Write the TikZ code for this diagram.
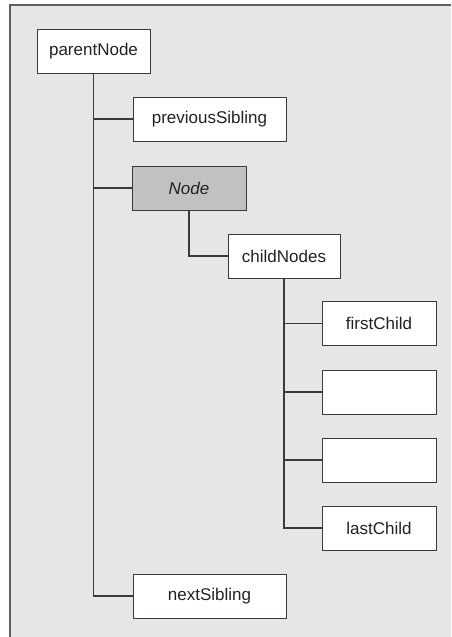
\documentclass[tikz,border=0pt]{standalone}
\usepackage{fontspec}
\setmainfont{Liberation Sans}
\begin{document}
\definecolor{panel}{HTML}{E5E6E8}
\definecolor{panelrule}{HTML}{606060}
\definecolor{boxrule}{HTML}{3A3A3A}
\definecolor{current}{HTML}{C0C1C3}
\definecolor{ink}{HTML}{222222}
\begin{tikzpicture}[x=1pt,y=-1pt,
  box/.style={draw=boxrule, line width=1pt, fill=white, minimum height=44pt,
    inner sep=0pt, font=\fontsize{17}{19}\selectfont, text=ink},
  link/.style={draw=boxrule, line width=1.3pt}]
  \useasboundingbox (0,0) rectangle (451,637);
  % panel
  \fill[panel] (10,5) rectangle (451,637);
  \draw[panelrule, line width=1.5pt] (10,637) -- (10,5) -- (451,5);

  % boxes
  \node[box, minimum width=113pt] (parent) at (93.5,51) {parentNode};
  \node[box, minimum width=153pt] (prev) at (209.5,119) {previousSibling};
  \node[box, minimum width=114pt, fill=current] (node) at (189,188) {\itshape Node};
  \node[box, minimum width=112pt] (children) at (284,256) {childNodes};
  \node[box, minimum width=114pt] (first) at (379,323.5) {firstChild};
  \node[box, minimum width=114pt] (midA) at (379,392) {};
  \node[box, minimum width=114pt] (midB) at (379,460) {};
  \node[box, minimum width=114pt] (last) at (379,528) {lastChild};
  \node[box, minimum width=153pt] (next) at (209.5,596) {nextSibling};

  % connectors
  \draw[link] (parent.south) |- (prev.west);
  \draw[link] (parent.south) |- (node.west);
  \draw[link] (parent.south) |- (next.west);
  \draw[link] (node.south) |- (children.west);
  \draw[link] (children.south) |- (first.west);
  \draw[link] (children.south) |- (midA.west);
  \draw[link] (children.south) |- (midB.west);
  \draw[link] (children.south) |- (last.west);
\end{tikzpicture}
\end{document}
